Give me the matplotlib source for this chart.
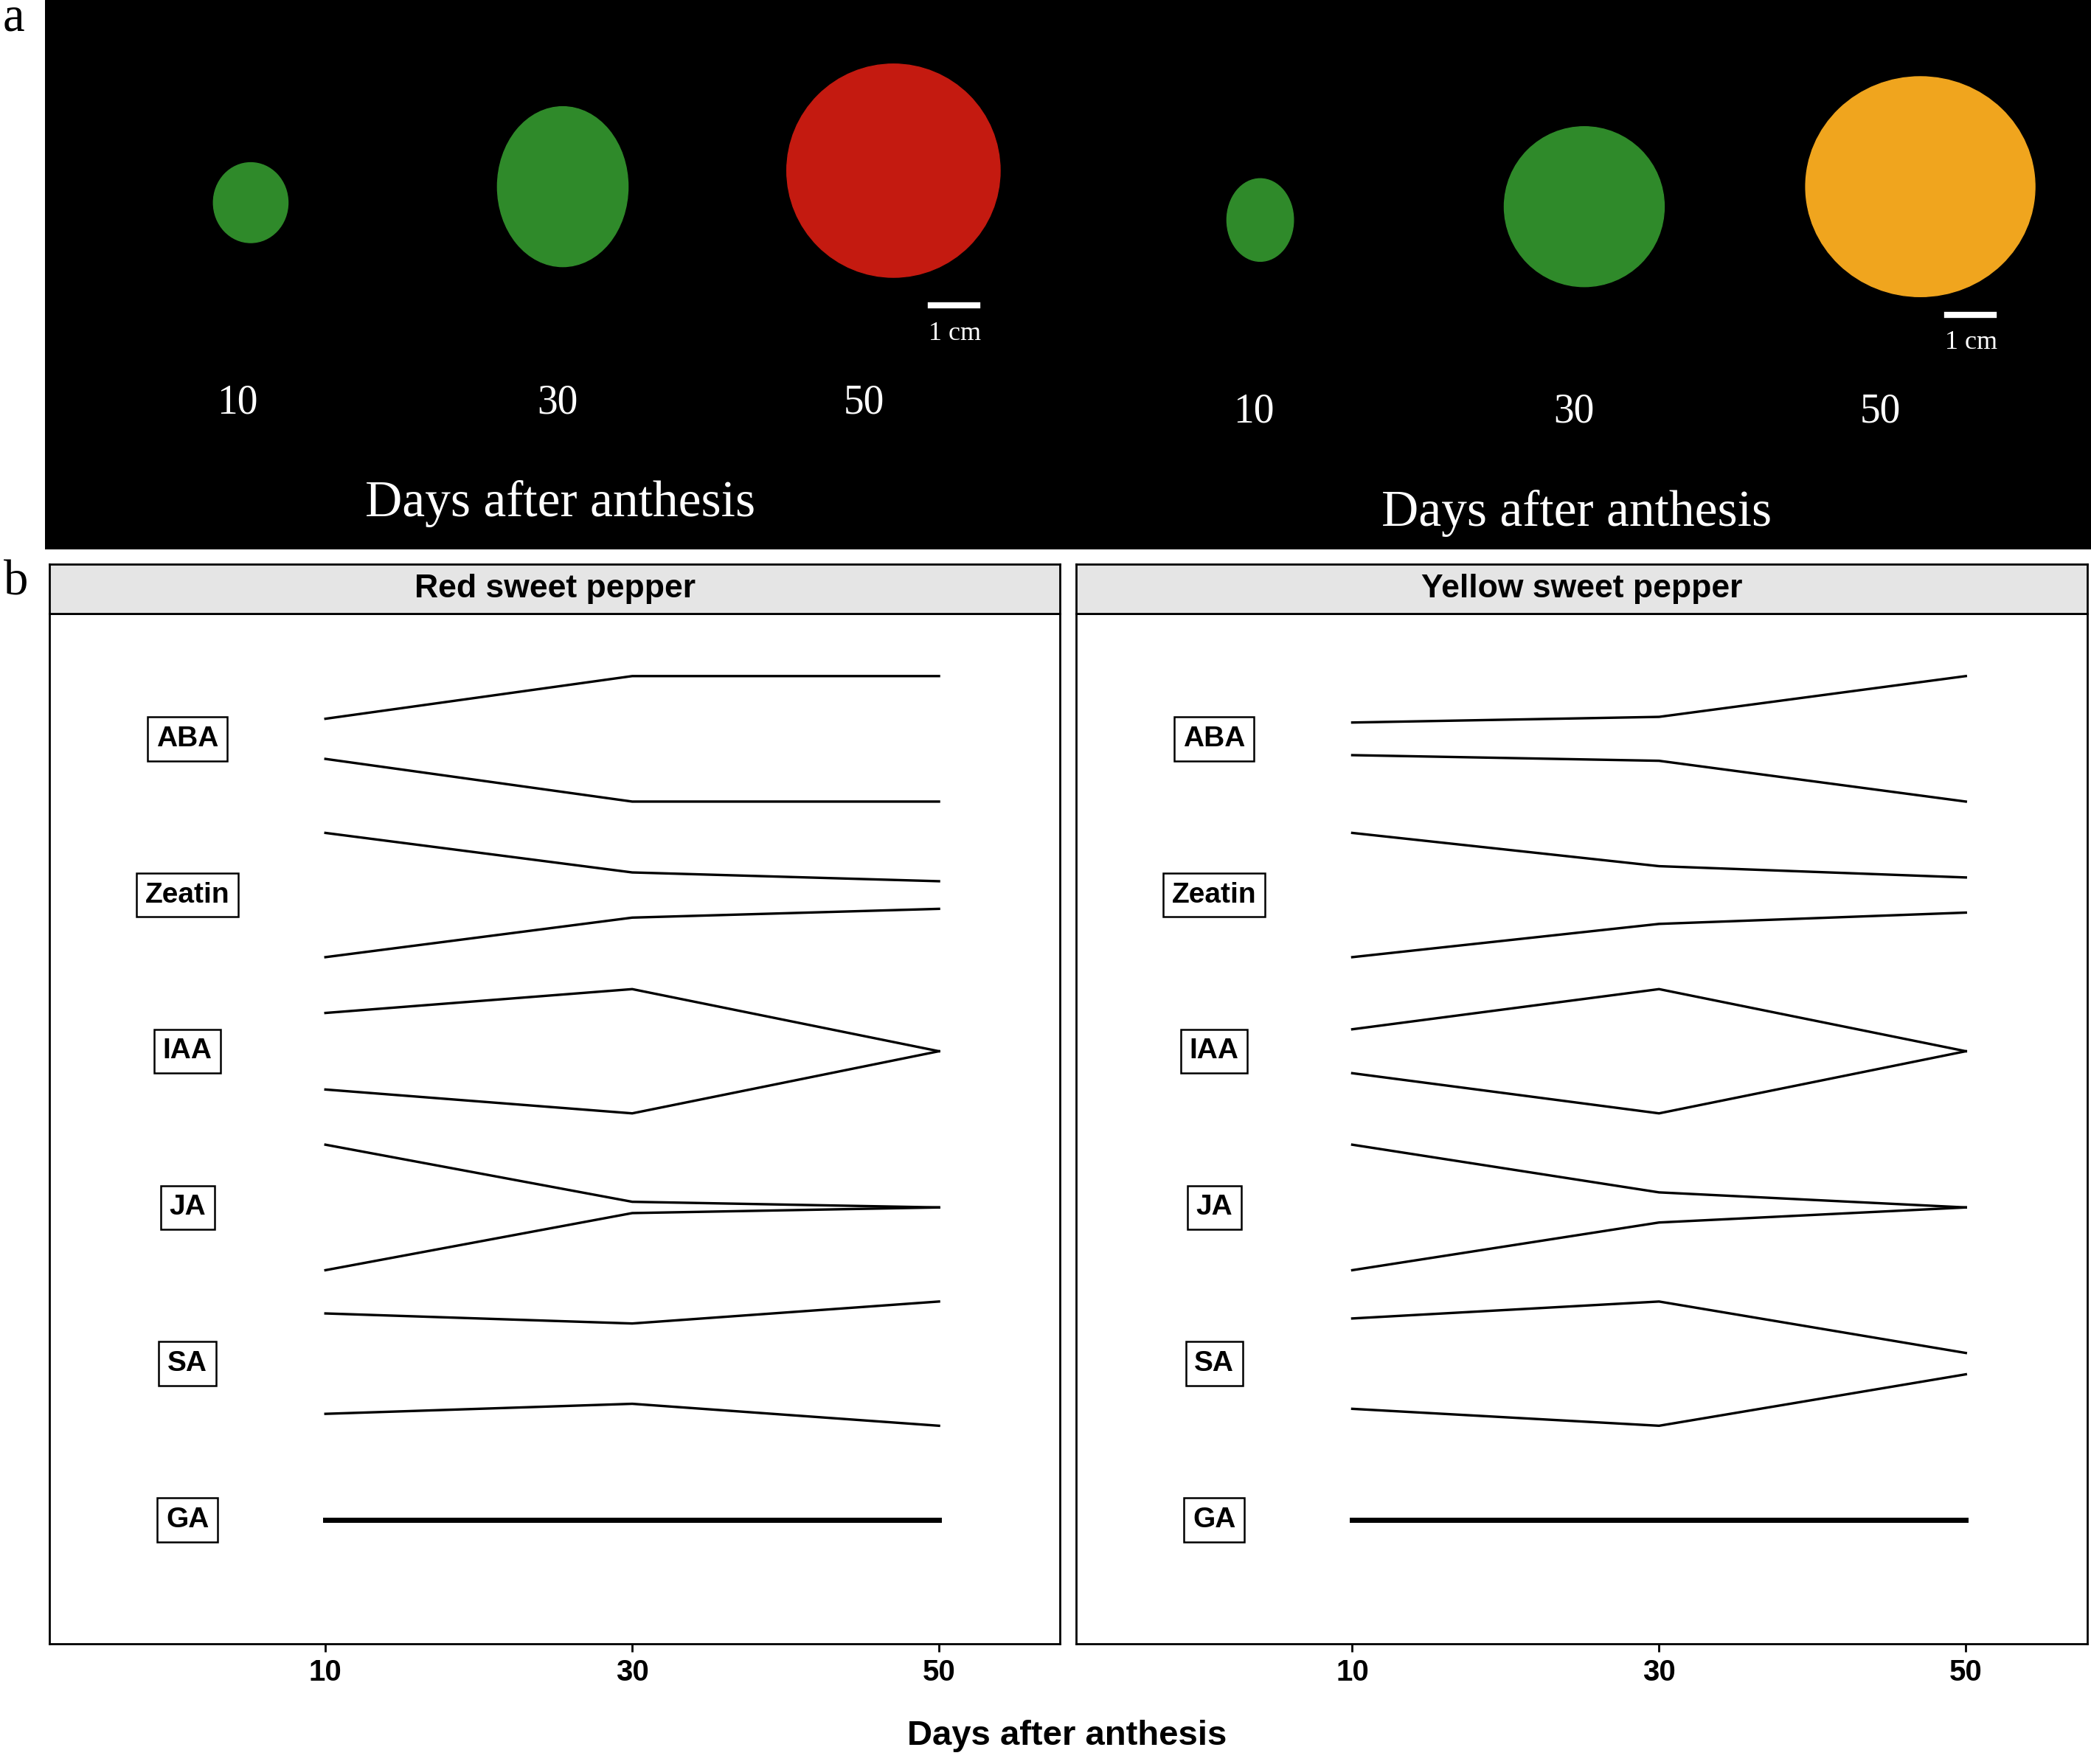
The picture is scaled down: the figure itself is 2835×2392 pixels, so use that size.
import matplotlib.pyplot as plt
from matplotlib.patches import Ellipse, Rectangle

plt.rcParams['font.family'] = ['Liberation Sans', 'DejaVu Sans']

# hormones, top to bottom
hormones = ['ABA', 'Zeatin', 'IAA', 'JA', 'SA', 'GA']
days = [10, 30, 50]
# relative half-width of each ribbon at 10, 30, 50 DAA (1 = widest)
red_width = [[0.32, 1.0, 1.0],
             [0.99, 0.36, 0.22],
             [0.61, 0.99, 0.0],
             [1.0, 0.09, 0.0],
             [0.80, 0.64, 0.99],
             [0.0, 0.0, 0.0]]
yellow_width = [[0.26, 0.35, 1.0],
                [0.99, 0.46, 0.28],
                [0.35, 0.99, 0.0],
                [1.0, 0.24, 0.0],
                [0.72, 0.99, 0.17],
                [0.0, 0.0, 0.0]]
panels = ['Red sweet pepper', 'Yellow sweet pepper']

W, H = 1568, 1323
fig = plt.figure(figsize=(28.35, 23.92), dpi=100)
fig.patch.set_facecolor('white')

def fx(px):
    return px / W

def fy(py):
    return 1 - py / H

# ---- panel a: photo strip (drawn schematically) ----
ax_a = fig.add_axes([fx(34), fy(412), fx(1568 - 34), 412 / H])
ax_a.set_xlim(34, 1568)
ax_a.set_ylim(412, 0)
ax_a.set_facecolor('black')
ax_a.axis('off')
ax_a.add_patch(Rectangle((34, 0), 1534, 412, color='black'))
peppers = [(188, 152, 56, 60, '#2f8a2a'), (422, 140, 98, 120, '#2f8a2a'),
           (670, 128, 160, 160, '#c41a10'),
           (945, 165, 50, 62, '#2f8a2a'), (1188, 155, 120, 120, '#2f8a2a'),
           (1440, 140, 172, 165, '#f0a51e')]
for x, y, w, h, c in peppers:
    ax_a.add_patch(Ellipse((x, y), w, h, color=c))
serif = 'Liberation Serif'
for off, ly in [(0, 0), (762, 7)]:
    for d, x in zip(days, [178, 418, 648]):
        ax_a.text(x + off, 302 + ly, str(d), color='white', fontsize=40,
                  family=serif, ha='center', va='center')
    ax_a.text(420 + off, 378 + ly, 'Days after anthesis', color='white',
              fontsize=50, family=serif, ha='center', va='center')
    ax_a.plot([698 + off, 733 + off], [229 + ly, 229 + ly], color='white', lw=6)
    ax_a.text(716 + off, 250 + ly, '1 cm', color='white', fontsize=26,
              family=serif, ha='center', va='center')
fig.text(fx(10), fy(14), 'a', fontsize=48, family=serif, ha='center', va='center')
fig.text(fx(12), fy(437), 'b', fontsize=48, family=serif, ha='center', va='center')

# ---- panel b: ribbon plots ----
unit = 47 / 117  # widest half-width in row units
for i, (title, widths) in enumerate(zip(panels, [red_width, yellow_width])):
    left = 37 if i == 0 else 807
    ax = fig.add_axes([fx(left), fy(1233), fx(758), (1233 - 460) / H])
    for k, name in enumerate(hormones):
        yc = k
        hw = [w * unit for w in widths[k]]
        if max(hw) == 0:
            ax.plot(days, [yc] * 3, color='black', lw=5)
        else:
            ax.plot(days, [yc - h for h in hw], color='black', lw=2.4)
            ax.plot(days, [yc + h for h in hw], color='black', lw=2.4)
        ax.text(1.0, yc, name, fontsize=28, fontweight='bold', ha='center',
                va='center', bbox=dict(boxstyle='square,pad=0.3', fc='white',
                                       ec='black', lw=1.8))
    ax.set_xlim(-8, 57.9)
    ax.set_ylim(5 + (1233 - 1140) / 117, -(554 - 460) / 117)
    ax.set_yticks([])
    ax.set_xticks(days)
    ax.tick_params(axis='x', labelsize=29, length=8, width=2, pad=6)
    for lab in ax.get_xticklabels():
        lab.set_fontweight('bold')
    for s in ax.spines.values():
        s.set_linewidth(2)
    # strip title
    sx = fig.add_axes([fx(left), fy(460), fx(758), (460 - 423) / H])
    sx.set_facecolor('#e5e5e5')
    sx.set_xticks([])
    sx.set_yticks([])
    for s in sx.spines.values():
        s.set_linewidth(2)
    sx.text(0.5, 0.5, title, fontsize=32, fontweight='bold', ha='center',
            va='center', transform=sx.transAxes)

fig.text(fx(800), fy(1302), 'Days after anthesis', fontsize=34,
         fontweight='bold', ha='center', va='center')

fig.savefig('out.png', dpi=100)
